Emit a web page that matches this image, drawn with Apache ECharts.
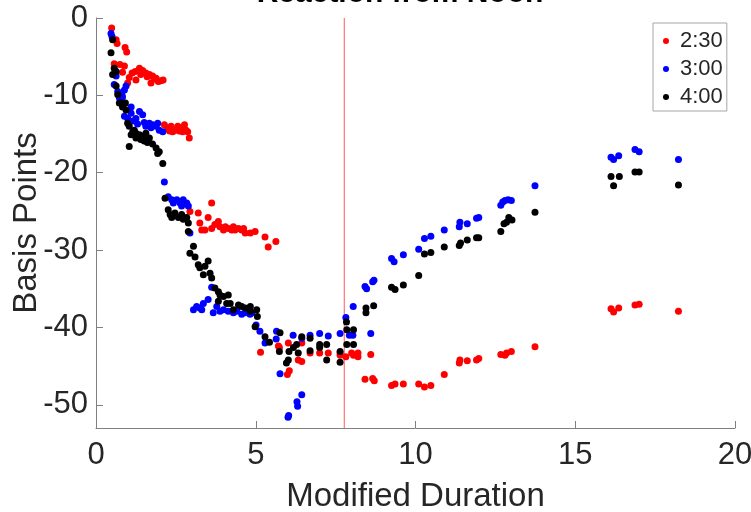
<!DOCTYPE html>
<html>
<head>
<meta charset="utf-8">
<script src="https://cdn.jsdelivr.net/npm/echarts@6/dist/echarts.min.js"></script>
<style>html,body{margin:0;padding:0;background:#fff;}#c{width:751px;height:512px;}</style>
</head>
<body>
<div id="c"></div>
<script>
const titleText = 'Reaction from Noon';
const seriesNames = ['2:30', '3:00', '4:00'];
const xTicks = [0, 5, 10, 15, 20];
const yTicks = [-50, -40, -30, -20, -10, 0];
const vlineX = 7.77;

const red230 = [
[0.49,-1.3],[0.63,-2.8],[0.66,-3.3],[0.91,-3.8],[0.96,-4.4],
[0.57,-5.9],[0.75,-6.0],[0.89,-6.2],[0.83,-7.0],[0.99,-8.4],[1.04,-7.7],[1.13,-7.1],[1.23,-6.9],[1.25,-8.0],[1.36,-6.5],[1.4,-7.3],[1.46,-6.8],[1.56,-7.1],[1.6,-7.6],[1.67,-7.3],[1.72,-8.4],[1.77,-7.5],[1.82,-7.9],[1.88,-7.8],[1.95,-8.2],[2.03,-8.1],[2.1,-8.0],
[2.14,-13.8],[2.24,-14.2],[2.3,-14.6],[2.35,-14.0],[2.4,-14.7],[2.45,-14.5],[2.56,-14.0],[2.6,-14.6],[2.66,-14.2],[2.71,-14.7],[2.77,-13.8],[2.82,-14.5],[2.87,-14.7],[2.92,-15.5],
[2.94,-25.0],[3.2,-25.2],[3.25,-26.5],[3.31,-27.4],[3.41,-27.4],[3.51,-25.8],[3.62,-23.9],[3.62,-27.2],[3.72,-26.7],[3.83,-26.3],[3.88,-27.0],[3.99,-27.4],[4.05,-27.0],[4.14,-27.2],[4.25,-27.4],[4.3,-27.0],[4.35,-27.4],[4.46,-27.2],[4.56,-27.4],[4.62,-27.2],[4.67,-27.8],[4.83,-27.8],[4.98,-27.6],[5.29,-28.3],[5.39,-29.6],[5.63,-28.9],
[5.15,-43.2],[5.71,-42.4],[5.74,-42.6],[5.99,-46.1],[6.05,-45.6],[6.02,-42.0],[6.33,-44.2],[6.44,-44.4],[6.44,-42.0],[6.7,-43.3],[7.0,-43.3],[7.27,-43.3],[7.64,-43.3],[7.64,-43.6],[7.82,-43.8],[8.0,-43.3],[8.06,-43.6],[8.2,-43.3],[8.2,-43.8],[8.6,-43.5],
[8.42,-46.7],[8.66,-46.6],[8.71,-46.9],[9.25,-47.5],[9.36,-47.3],[9.62,-47.3],[10.1,-47.3],[10.28,-47.7],[10.48,-47.5],[10.9,-46.1],[11.37,-44.6],[11.39,-44.2],[11.62,-44.3],[11.91,-44.2],[11.98,-44.0],[12.67,-43.5],[12.8,-43.6],[12.85,-43.3],[13.0,-43.1],[13.74,-42.5],
[16.12,-37.6],[16.2,-38.0],[16.36,-37.5],[16.87,-37.1],[17.0,-37.0],[18.23,-37.9]
];

const blue300 = [
[0.47,-2.0],[0.5,-2.4],[0.57,-8.6],[0.63,-7.5],[0.68,-9.5],[0.73,-10.3],[0.73,-9.95],[0.81,-9.9],[0.83,-10.2],[0.89,-9.3],[0.94,-8.8],[1.1,-11.5],
[0.89,-12.7],[0.99,-13.0],[1.1,-12.3],[1.15,-13.3],[1.25,-13.0],[1.3,-13.7],[1.36,-12.1],[1.46,-12.5],[1.51,-13.5],[1.56,-14.0],[1.67,-13.6],[1.72,-14.2],[1.77,-13.8],[1.88,-14.0],[1.93,-13.6],[1.98,-14.5],[2.09,-14.7],
[2.14,-21.2],[2.26,-23.1],[2.37,-23.5],[2.42,-23.9],[2.53,-23.5],[2.63,-23.9],[2.68,-24.3],[2.73,-23.5],[2.84,-23.9],[2.89,-24.3],[2.94,-27.8],
[3.05,-37.7],[3.15,-37.3],[3.25,-37.5],[3.31,-37.7],[3.36,-36.9],[3.51,-36.4],[3.62,-34.8],[3.67,-38.1],[3.78,-37.3],[3.88,-37.9],[3.99,-37.7],[4.14,-37.9],[4.3,-38.1],[4.41,-37.9],[4.56,-38.3],[4.67,-38.1],[4.82,-38.3],[4.88,-38.1],[5.01,-39.7],[5.13,-40.5],[5.29,-42.0],[5.64,-41.5],[5.65,-40.5],[6.17,-41.0],[6.44,-41.4],[6.7,-41.0],[7.0,-40.8],[7.27,-41.1],[7.64,-40.8],[7.82,-38.7],[7.93,-41.0],[8.04,-41.0],[8.6,-40.8],
[5.76,-46.0],[6.01,-51.6],[6.03,-51.4],[6.29,-49.6],[6.31,-50.2],[6.44,-48.7],
[8.05,-37.3],[8.42,-34.7],[8.47,-35.0],[8.66,-34.1],[8.7,-33.9],[9.25,-31.1],[9.33,-31.5],[9.62,-30.6],[10.1,-29.9],[10.28,-28.5],[10.48,-28.2],[10.9,-27.4],[11.37,-27.0],[11.39,-26.4],[11.62,-26.6],[11.91,-25.9],[11.98,-25.8],[12.67,-24.2],[12.73,-23.8],[12.8,-23.6],[12.9,-23.5],[13.0,-23.6],[13.74,-21.7],
[16.12,-18.0],[16.2,-18.3],[16.36,-17.8],[16.87,-17.0],[17.0,-17.3],[18.23,-18.3]
];

const black400 = [
[0.52,-2.8],[0.47,-4.5],[0.57,-6.5],[0.63,-6.9],[0.52,-7.3],[0.63,-8.8],[0.68,-9.9],[0.78,-11.0],[0.84,-11.4],[0.92,-11.0],[0.73,-11.0],[0.83,-11.5],[0.94,-11.9],
[0.99,-13.6],[1.04,-14.0],[1.1,-15.1],[1.15,-14.7],[1.2,-14.5],[1.25,-14.9],[1.25,-15.5],[1.36,-15.1],[1.4,-15.7],[1.46,-15.3],[1.51,-15.9],[1.56,-14.9],[1.61,-16.1],[1.67,-15.5],[1.77,-16.3],[1.88,-16.8],[1.93,-17.5],[1.98,-17.3],[1.04,-16.6],[2.09,-18.8],
[2.16,-23.3],[2.26,-24.8],[2.32,-25.4],[2.37,-25.8],[2.47,-25.2],[2.58,-25.8],[2.68,-25.4],[2.73,-26.0],[2.84,-25.8],[2.89,-26.5],[2.89,-27.6],[3.05,-29.5],[2.94,-30.4],[3.1,-30.9],
[3.2,-31.9],[3.25,-32.3],[3.41,-32.1],[3.51,-31.4],[3.36,-33.2],[3.57,-33.0],[3.62,-33.6],[3.72,-34.9],[3.83,-35.4],[3.88,-35.8],[3.99,-36.0],[4.14,-35.8],[3.83,-36.6],[4.09,-36.9],[4.2,-36.9],[4.3,-37.7],[4.46,-37.1],[4.56,-37.3],[4.67,-37.5],[4.83,-37.3],[4.83,-37.9],[5.03,-37.7],[5.05,-38.6],[4.98,-39.9],
[5.29,-41.2],[5.43,-41.9],[5.76,-40.7],[5.74,-43.1],[5.96,-44.6],[6.02,-44.2],[6.04,-43.1],[6.18,-42.6],[6.28,-42.2],[6.33,-43.3],[6.44,-41.2],[6.7,-41.4],[6.7,-43.0],[7.0,-42.2],[7.0,-42.6],[7.22,-42.2],[7.22,-44.2],[7.64,-43.1],[7.64,-44.5],[7.84,-39.3],[7.85,-40.3],[7.85,-42.2],[8.06,-42.2],[8.06,-40.3],
[8.45,-37.5],[8.45,-38.1],[8.69,-37.2],[9.25,-34.8],[9.36,-35.1],[9.62,-34.5],[10.1,-33.3],[10.28,-30.5],[10.48,-30.3],[10.9,-29.6],[11.37,-29.4],[11.41,-29.1],[11.62,-28.7],[11.91,-28.4],[11.98,-28.4],[12.67,-27.6],[12.77,-26.6],[12.85,-26.4],[12.92,-25.8],[13.02,-26.1],[13.74,-25.1],
[16.12,-20.5],[16.2,-21.7],[16.38,-20.5],[16.87,-19.9],[17.0,-19.9],[18.23,-21.6]
];

const FONT = "'Liberation Sans', Arial, Helvetica, sans-serif";
const colors = ['#ff0000', '#0000ff', '#000000'];
const chart = echarts.init(document.getElementById('c'), null, {renderer: 'canvas'});

function mkSeries(name, data, color, z) {
  return {
    name: name, type: 'scatter', data: data, symbol: 'circle', symbolSize: 7,
    itemStyle: {color: color, opacity: 1}, z: z, animation: false,
    emphasis: {disabled: true}
  };
}

const series = [
  mkSeries(seriesNames[0], red230, colors[0], 3),
  mkSeries(seriesNames[1], blue300, colors[1], 4),
  mkSeries(seriesNames[2], black400, colors[2], 5),
  {
    type: 'line', data: [[vlineX, 0], [vlineX, -53]], symbol: 'none', z: 2,
    lineStyle: {color: '#ff5a5a', width: 1}, silent: true, animation: false, legendHoverLink: false
  }
];

chart.setOption({
  animation: false,
  backgroundColor: '#ffffff',
  textStyle: {fontFamily: FONT},
  grid: {left: 96, right: 16, top: 18, bottom: 84, containLabel: false, outerBoundsMode: 'none'},
  graphic: [{
    type: 'text', x: 400, y: -21,
    style: {text: titleText, font: "bold 30px " + FONT, fill: '#000', textAlign: 'center', textVerticalAlign: 'top'}
  }],
  legend: {
    data: seriesNames,
    orient: 'vertical', left: 653, top: 23,
    padding: [7, 4, 3, 10], itemGap: 6,
    itemWidth: 6, itemHeight: 6, icon: 'circle',
    borderColor: '#a6a6a6', borderWidth: 1, backgroundColor: '#fff',
    textStyle: {fontSize: 22, color: '#262626', fontFamily: FONT, lineHeight: 22, padding: [0, 0, 0, 6]},
    selectedMode: false
  },
  xAxis: {
    type: 'value', min: 0, max: 20, interval: 5,
    name: 'Modified Duration', nameLocation: 'middle', nameGap: 52, nameMoveOverlap: false,
    nameTextStyle: {fontSize: 33, color: '#262626', fontFamily: FONT},
    axisLine: {show: true, onZero: false, lineStyle: {color: '#808080', width: 1}},
    axisTick: {show: true, inside: true, length: 7, lineStyle: {color: '#808080'}},
    axisLabel: {fontSize: 31, color: '#262626', margin: 12, fontFamily: FONT},
    splitLine: {show: false}
  },
  yAxis: {
    type: 'value', min: -53, max: 0,
    name: 'Basis Points', nameLocation: 'middle', nameGap: 53, nameRotate: 90, nameMoveOverlap: false,
    nameTextStyle: {fontSize: 33, color: '#262626', fontFamily: FONT},
    axisLine: {show: true, onZero: false, lineStyle: {color: '#808080', width: 1}},
    axisTick: {show: true, inside: true, length: 7, customValues: yTicks, lineStyle: {color: '#808080'}},
    axisLabel: {fontSize: 31, color: '#262626', margin: 8, customValues: yTicks, fontFamily: FONT},
    splitLine: {show: false}
  },
  series: series
});
</script>
</body>
</html>
